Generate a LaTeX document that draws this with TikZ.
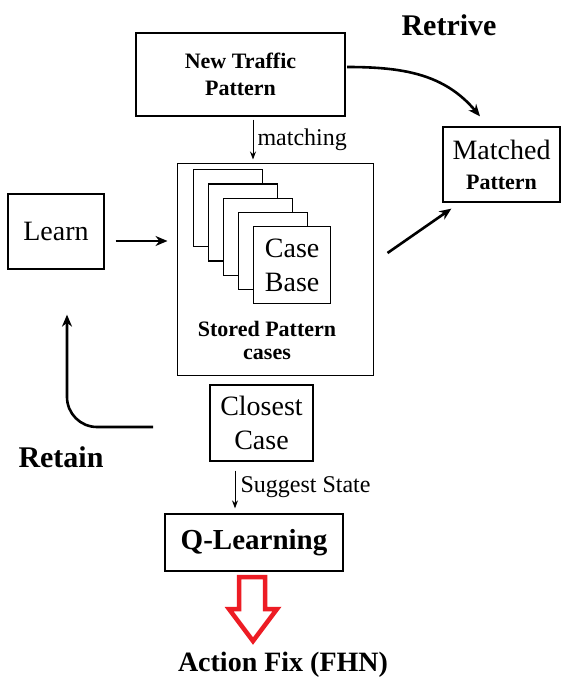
\documentclass[tikz,border=0pt]{standalone}
\usepackage{fontspec}
\setmainfont{Liberation Serif}
\usetikzlibrary{arrows.meta,positioning,calc}
\definecolor{fixred}{HTML}{ED1C24}
\tikzset{
  procbox/.style={
    rectangle, draw=black, line width=1.3pt, fill=white,
    font=\fontsize{28}{34}\selectfont, align=center,
    inner sep=0pt
  },
  pagebox/.style={
    rectangle, draw=black, line width=1.3pt, fill=white,
    minimum width=#1, minimum height=77pt, anchor=north west,
    font=\fontsize{28}{34}\selectfont, align=center, inner sep=0pt
  },
  pagebox/.default=69pt,
  thinarrow/.style={-{Stealth[length=8pt,width=6pt]}, line width=1pt},
  flowarrow/.style={-{Stealth[length=12pt,width=10pt]}, line width=2.6pt},
  edgelabel/.style={font=\fontsize{24}{28}\selectfont, inner sep=4pt},
  steplabel/.style={font=\fontsize{30}{36}\selectfont\bfseries},
  fixarrow/.style={draw=fixred, line width=4.5pt, line join=miter, fill=white},
}

\begin{document}
\begin{tikzpicture}[x=1pt, y=-1pt]
  \useasboundingbox[fill=white] (0,0) rectangle (562,679);

  % boxes
  \node[procbox, minimum width=209pt, minimum height=83pt,
        font=\fontsize{22}{27}\selectfont\bfseries] (traffic) at (240.5,74.5) {New Traffic\\Pattern};
  \node[procbox, line width=1pt, minimum width=196pt, minimum height=211pt] (stored) at (275,269.5) {};
  \node[procbox, minimum width=96pt, minimum height=75pt] (learn) at (56,231.5) {Learn};
  \node[procbox, minimum width=117pt, minimum height=75pt] (matched) at (501.5,164.5)
    {Matched\\[-4pt]{\fontsize{22}{26}\selectfont\bfseries Pattern}};
  \node[procbox, minimum width=103pt, minimum height=76pt] (closest) at (261.5,423) {Closest\\Case};
  \node[procbox, minimum width=178pt, minimum height=57pt,
        font=\fontsize{29}{34}\selectfont\bfseries] (qlearn) at (254,542.5) {Q-Learning};

  % stack of stored cases
  \foreach \i in {0,...,3}
    \node[pagebox] (page\i) at (193+15*\i, 169+14.3*\i) {};
  \node[pagebox=77pt] (casebase) at (253,226) {Case\\Base};
  \node[font=\fontsize{22}{23}\selectfont\bfseries, align=center] (storedtxt) at (267,340) {Stored Pattern\\cases};

  % connectors
  \draw[thinarrow, shorten <=3pt, shorten >=4pt] ([xshift=12.5pt]traffic.south) -- ([xshift=-22pt]stored.north)
    node[midway, right, edgelabel] {matching};
  \draw[flowarrow, shorten <=11pt, shorten >=9pt] ([yshift=-9.5pt]learn.east) -- ([yshift=28.5pt]stored.west);
  \coordinate (retainstart) at (153,427);
  \draw[flowarrow, rounded corners=30pt, shorten >=45pt] (retainstart) -| ([xshift=11pt]learn.south);
  \coordinate (retrivestart) at (347,67);
  \draw[flowarrow] (retrivestart) to[out=0, in=130] ([xshift=-21.5pt, yshift=10pt]matched.north);
  \draw[flowarrow] ([xshift=14pt, yshift=16.5pt]stored.east) -- ([xshift=9pt, yshift=-6pt]matched.south west);
  \draw[thinarrow, shorten <=9pt, shorten >=5pt] ([xshift=-26.5pt]closest.south) -- ([xshift=-19pt]qlearn.north)
    node[midway, right, edgelabel, inner sep=5pt] {Suggest State};

  % hollow output arrow
  \draw[fixarrow] (239,577) -- (265,577) -- (265,609) -- (277,609) -- (253,641)
    -- (229,609) -- (239,609) -- cycle;

  % step labels
  \node[steplabel] (retrive) at (449,25) {Retrive};
  \node[steplabel] (retain) at (61,457) {Retain};
  \node[steplabel, font=\fontsize{28}{34}\selectfont\bfseries] (action) at (283,665) {Action Fix (FHN)};
\end{tikzpicture}
\end{document}
